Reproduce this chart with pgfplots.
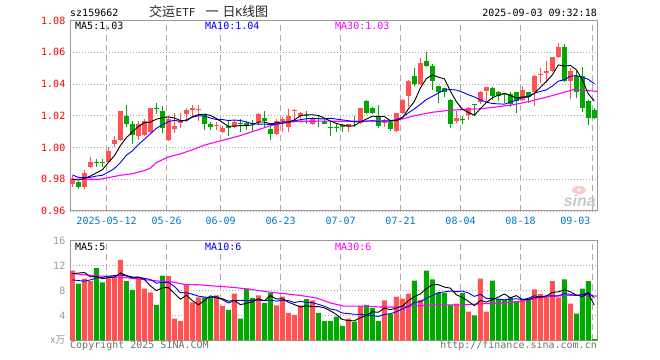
\documentclass[border=0pt]{standalone}
\usepackage{pgfplots}
\pgfplotsset{compat=1.18}
\usepackage{pgfplotstable}
\usepackage{fontspec}
\setmainfont{DejaVu Sans}
\newfontfamily\mono{DejaVu Sans Mono}
\newfontfamily\cjk{Noto Sans CJK SC}
\newfontfamily\logofont{Liberation Sans}
\definecolor{cRed}{HTML}{FF5252}
\definecolor{cGreen}{HTML}{00A800}
\definecolor{tickRed}{HTML}{FF0000}
\definecolor{dateBlue}{HTML}{0078C8}
\definecolor{gridGray}{HTML}{AAAAAA}
\definecolor{frameGray}{HTML}{999999}
\definecolor{volGray}{HTML}{999999}
\definecolor{txtGray}{HTML}{707070}
\definecolor{maBlue}{HTML}{0000FF}
\definecolor{maMag}{HTML}{FF00FF}
\newcommand{\mf}{\mono\fontsize{10bp}{12bp}\selectfont}
\newcommand{\cf}{\cjk\fontsize{13bp}{15bp}\selectfont}

% red (rising) candles: index, open, high, low, close
\pgfplotstableread{
i O H L C
0 0.977 0.982 0.975 0.980
2 0.975 0.986 0.974 0.984
3 0.988 0.994 0.987 0.991
6 0.991 1.000 0.990 0.998
7 1.002 1.007 1.000 1.005
8 1.005 1.023 1.004 1.023
11 1.007 1.017 1.005 1.015
12 1.008 1.018 1.007 1.017
13 1.010 1.025 1.009 1.025
16 1.005 1.020 1.004 1.018
17 1.0115 1.0215 1.009 1.0135
18 1.0155 1.0215 1.0125 1.017
19 1.021 1.025 1.018 1.0235
20 1.0235 1.0265 1.020 1.025
21 1.0238 1.027 1.0165 1.0245
24 1.0135 1.016 1.011 1.0141
25 1.010 1.0135 1.009 1.0125
27 1.0126 1.0175 1.012 1.016
31 1.016 1.022 1.014 1.021
34 1.0085 1.018 1.008 1.017
35 1.0165 1.019 1.0095 1.018
36 1.013 1.0245 1.010 1.020
37 1.023 1.0245 1.016 1.0236
38 1.020 1.0225 1.017 1.0217
40 1.015 1.019 1.014 1.018
46 1.013 1.015 1.0098 1.0146
48 1.0156 1.025 1.015 1.0246
52 1.0156 1.0177 1.0131 1.0162
54 1.0102 1.0219 1.0098 1.0215
55 1.0215 1.0306 1.0208 1.0302
56 1.0327 1.0427 1.0256 1.0417
58 1.0402 1.0563 1.0396 1.0535
64 1.0167 1.0233 1.0152 1.0183
66 1.0202 1.0256 1.0173 1.025
68 1.0285 1.0354 1.0277 1.0348
69 1.0354 1.0381 1.0292 1.0379
75 1.0302 1.0385 1.0292 1.0365
77 1.0348 1.0458 1.026 1.0452
78 1.0458 1.050 1.0406 1.0465
79 1.0469 1.0542 1.0406 1.048
80 1.048 1.0569 1.0473 1.0567
81 1.0567 1.0656 1.0563 1.0635
83 1.0417 1.050 1.0308 1.0485
}\redK

% green (falling) candles
\pgfplotstableread{
i O H L C
1 0.978 0.979 0.974 0.975
4 0.991 0.993 0.988 0.990
5 0.991 0.993 0.988 0.990
9 1.020 1.027 1.013 1.015
10 1.015 1.017 1.002 1.008
14 1.025 1.028 1.021 1.0245
15 1.023 1.026 1.009 1.012
22 1.0205 1.021 1.011 1.015
23 1.0147 1.016 1.011 1.013
26 1.0133 1.0175 1.0074 1.012
28 1.0153 1.018 1.0095 1.0147
29 1.0154 1.017 1.011 1.014
30 1.0155 1.0175 1.010 1.0145
32 1.0185 1.023 1.013 1.0165
33 1.0115 1.015 1.005 1.0085
39 1.0205 1.023 1.015 1.020
41 1.0187 1.020 1.0126 1.018
42 1.017 1.018 1.0147 1.015
43 1.0131 1.016 1.0074 1.0125
44 1.013 1.0156 1.010 1.0125
45 1.014 1.0146 1.0098 1.013
47 1.0167 1.020 1.013 1.016
49 1.0296 1.0302 1.0208 1.0215
50 1.0246 1.0256 1.0208 1.0217
51 1.0198 1.0265 1.012 1.0135
53 1.016 1.0167 1.0104 1.0115
57 1.0452 1.050 1.0385 1.0402
59 1.0548 1.0604 1.051 1.0515
60 1.0515 1.0527 1.0365 1.0417
61 1.0385 1.039 1.0281 1.0348
62 1.0377 1.0377 1.0319 1.0352
63 1.0302 1.0306 1.0125 1.0146
65 1.0181 1.020 1.0146 1.0175
67 1.0275 1.0275 1.0198 1.0265
70 1.0375 1.0379 1.0302 1.0327
71 1.0348 1.0354 1.0292 1.0327
72 1.0336 1.0344 1.0281 1.033
73 1.034 1.0348 1.0256 1.0277
74 1.0348 1.0348 1.0219 1.0292
76 1.0348 1.0348 1.0281 1.0319
82 1.0635 1.0652 1.041 1.0417
84 1.0452 1.048 1.0313 1.0348
85 1.0448 1.051 1.0223 1.025
86 1.0296 1.0302 1.014 1.0188
87 1.0235 1.025 1.0177 1.0188
}\greenK

% price moving averages (MA5, MA10)
\pgfplotstableread{
i m5 m10
0 0.9800 0.9827
1 0.9795 0.9812
2 0.9805 0.9810
3 0.9820 0.9812
4 0.9840 0.9820
5 0.9860 0.9825
6 0.9906 0.9845
7 0.9948 0.9868
8 1.0012 0.9905
9 1.0062 0.9951
10 1.0098 0.9979
11 1.0132 1.0019
12 1.0156 1.0052
13 1.0160 1.0086
14 1.0179 1.0121
15 1.0187 1.0143
16 1.0193 1.0163
17 1.0186 1.0171
18 1.0170 1.0165
19 1.0168 1.0174
20 1.0194 1.0191
21 1.0207 1.0200
22 1.0210 1.0198
23 1.0202 1.0186
24 1.0183 1.0176
25 1.0158 1.0176
26 1.0133 1.0170
27 1.0135 1.0173
28 1.0138 1.0170
29 1.0138 1.0161
30 1.0142 1.0150
31 1.0160 1.0147
32 1.0161 1.0148
33 1.0149 1.0144
34 1.0155 1.0147
35 1.0162 1.0152
36 1.0160 1.0160
37 1.0174 1.0168
38 1.0200 1.0175
39 1.0206 1.0181
40 1.0206 1.0184
41 1.0202 1.0181
42 1.0185 1.0180
43 1.0167 1.0184
44 1.0152 1.0179
45 1.0142 1.0174
46 1.0135 1.0169
47 1.0137 1.0161
48 1.0161 1.0164
49 1.0179 1.0166
50 1.0197 1.0169
51 1.0195 1.0165
52 1.0195 1.0166
53 1.0169 1.0165
54 1.0169 1.0174
55 1.0186 1.0191
56 1.0242 1.0218
57 1.0290 1.0243
58 1.0374 1.0272
59 1.0434 1.0302
60 1.0457 1.0322
61 1.0443 1.0343
62 1.0433 1.0362
63 1.0356 1.0365
64 1.0289 1.0362
65 1.0241 1.0349
66 1.0221 1.0332
67 1.0204 1.0319
68 1.0244 1.0300
69 1.0283 1.0286
70 1.0314 1.0277
71 1.0329 1.0275
72 1.0342 1.0273
73 1.0328 1.0286
74 1.0311 1.0297
75 1.0318 1.0316
76 1.0317 1.0323
77 1.0341 1.0342
78 1.0379 1.0353
79 1.0416 1.0363
80 1.0457 1.0387
81 1.0520 1.0418
82 1.0513 1.0427
83 1.0517 1.0448
84 1.0490 1.0453
85 1.0427 1.0442
86 1.0338 1.0429
87 1.0292 1.0402
}\pma

% price MA30
\pgfplotstableread{
x m30
-0.4 0.9800
4.5 0.9800
6 0.9810
8 0.9825
10 0.9835
12 0.9855
13 0.9870
14 0.9905
16 0.9940
18 0.9960
20 0.9985
22 1.0015
24 1.0035
26 1.0055
28 1.0075
30 1.0100
32 1.0125
34 1.0148
36 1.0160
38 1.0165
42 1.0166
46 1.0165
50 1.0166
53 1.0170
55 1.0180
57 1.0200
60 1.0222
63 1.0235
65.3 1.0240
68 1.0244
70.8 1.0256
73.6 1.0270
76.4 1.0292
79.2 1.0319
82 1.0348
83.6 1.0365
85.2 1.0360
87.45 1.0354
}\pmathirty

% volume, red days
\pgfplotstableread{
i V
0 11.2
2 9.9
3 9.5
6 10.1
7 10.2
8 12.9
11 10.1
12 8.3
13 7.7
16 10.3
17 3.5
18 3.1
19 8.9
20 6.1
21 6.9
24 7.2
25 5.5
27 7.5
31 7.2
34 5.6
35 7.0
36 4.4
37 4.1
38 5.6
40 6.4
46 3.5
48 5.5
52 6.4
54 7.0
55 6.7
56 7.5
58 6.5
64 5.9
66 4.6
68 9.9
69 4.6
75 6.5
77 8.2
78 7.4
79 6.9
80 9.5
81 6.9
83 5.9
}\redV

% volume, green days
\pgfplotstableread{
i V
1 9.1
4 11.6
5 9.3
9 9.5
10 8.1
14 5.7
15 10.4
22 6.9
23 6.9
26 4.9
28 3.5
29 8.3
30 6.8
32 6.0
33 7.6
39 6.6
41 4.4
42 3.1
43 3.1
44 3.8
45 2.3
47 3.0
49 5.7
50 5.2
51 3.1
53 4.2
57 9.6
59 11.2
60 9.8
61 7.6
62 7.6
63 5.7
65 7.6
67 4.0
70 9.6
71 6.6
72 6.5
73 6.9
74 6.3
76 6.5
82 9.8
84 4.3
85 8.3
86 9.5
87 0.2
}\greenV

% volume MA5, MA10
\pgfplotstableread{
i m5 m10
0 10.7 9.7
1 10.8 9.6
2 10.9 9.5
3 10.2 9.7
4 10.26 10.0
5 9.88 10.1
6 10.08 10.3
7 10.14 10.4
8 10.82 10.5
9 10.40 10.33
10 10.16 10.02
11 10.16 10.12
12 9.78 9.96
13 8.74 9.78
14 7.98 9.19
15 8.44 9.30
16 8.48 9.32
17 7.52 8.65
18 6.60 7.67
19 7.24 7.61
20 6.38 7.41
21 5.70 7.09
22 6.38 6.95
23 7.14 6.87
24 6.80 7.02
25 6.68 6.53
26 6.28 5.99
27 6.40 6.39
28 5.72 6.43
29 5.94 6.37
30 6.20 6.44
31 6.66 6.47
32 6.36 6.38
33 7.18 6.45
34 6.64 6.29
35 6.68 6.44
36 6.12 6.39
37 5.74 6.05
38 5.34 6.26
39 5.54 6.09
40 5.42 6.05
41 5.42 5.77
42 5.22 5.48
43 4.72 5.03
44 4.16 4.85
45 3.34 4.38
46 3.16 4.29
47 3.14 4.18
48 3.62 4.17
49 4.00 4.08
50 4.58 3.96
51 4.50 3.83
52 5.18 4.16
53 4.92 4.27
54 5.18 4.59
55 5.48 5.03
56 6.36 5.43
57 7.00 6.09
58 7.46 6.19
59 8.30 6.74
60 8.92 7.20
61 8.94 7.65
62 8.54 7.77
63 8.38 7.92
64 7.32 7.81
65 6.88 7.90
66 6.28 7.61
67 5.56 7.05
68 6.40 7.39
69 6.14 6.73
70 6.54 6.71
71 6.94 6.61
72 7.44 6.50
73 6.84 6.62
74 7.18 6.66
75 6.56 6.55
76 6.54 6.74
77 6.88 7.16
78 6.98 6.91
79 7.10 7.14
80 7.70 7.13
81 7.78 7.16
82 8.10 7.49
83 7.80 7.39
84 7.28 7.19
85 7.04 7.37
86 7.56 7.67
87 5.64 6.87
}\vma

% volume MA30
\pgfplotstableread{
x m30
-0.4 10.75
3.5 10.4
6.8 10.2
9 10.05
11.3 9.8
14.6 9.5
16.8 9.35
18.5 9.0
21.3 8.9
24 8.7
26.8 8.5
29.6 8.2
32.4 7.8
35.2 7.5
38 7.2
40.7 6.8
43 6.0
45.2 5.5
48.5 5.5
51.3 5.35
54 5.35
56.8 5.5
60.7 5.7
65.2 5.7
67.9 5.85
71.8 6.0
75.2 6.3
77.5 6.8
82 7.2
85.3 7.25
87.45 7.1
}\vmathirty

\pgfplotsset{
  kpanel/.style={
    scale only axis, width=527bp,
    xmin=-0.4, xmax=87.45,
    xtick={5.7,15.7,24.7,34.7,44.7,54.7,64.7,74.7,86.7},
    xmajorgrids, ymajorgrids,
    x grid style={draw=gridGray, line width=1.2bp, dash pattern=on 6bp off 4bp},
    y grid style={draw=gridGray, line width=0.8bp, dash pattern=on 1bp off 2bp},
    axis line style={draw=frameGray, line width=1bp},
    major tick length=0pt,
    yticklabel style={font=\mf, xshift=-1.2bp},
  },
  wick/.style={draw=none, mark=none, forget plot,
    error bars/.cd, y dir=minus, y explicit, error mark=none,
    error bar style={draw=#1, line width=1bp}},
  body/.style={draw=none, mark=none, forget plot,
    error bars/.cd, y dir=minus, y explicit, error mark=none,
    error bar style={draw=#1, line width=4.6bp}},
}

\begin{document}
\begin{tikzpicture}
\path[use as bounding box] (0bp,0bp) rectangle (660bp,360bp);

% ---------- price panel ----------
\begin{axis}[kpanel,
  at={(70bp,149bp)}, anchor=south west, height=190.5bp,
  ymin=0.96, ymax=1.08,
  ytick={0.96,0.98,1.00,1.02,1.04,1.06,1.08},
  yticklabels={0.96,0.98,1.00,1.02,1.04,1.06,1.08},
  xticklabels={2025-05-12,05-26,06-09,06-23,07-07,07-21,08-04,08-18,{\makebox[0pt][r]{09-03\hspace{2bp}}}},
  xticklabel style={font=\mf, text=dateBlue, yshift=-2.5bp},
  yticklabel style={text=tickRed},
]
\addplot[wick=cRed] table[x=i, y=H, y error minus expr=\thisrow{H}-\thisrow{L}] {\redK};
\addplot[body=cRed] table[x=i, y=C, y error minus expr=\thisrow{C}-\thisrow{O}] {\redK};
\addplot[wick=cGreen] table[x=i, y=H, y error minus expr=\thisrow{H}-\thisrow{L}] {\greenK};
\addplot[body=cGreen] table[x=i, y=O, y error minus expr=\thisrow{O}-\thisrow{C}] {\greenK};
\addplot[maMag, line width=1.1bp, mark=none] table[x=x, y=m30] {\pmathirty};
\addplot[maBlue, line width=0.9bp, mark=none] table[x=i, y=m10] {\pma};
\addplot[black, line width=0.9bp, mark=none] table[x=i, y=m5] {\pma};
\end{axis}

% ---------- volume panel ----------
\begin{axis}[kpanel,
  at={(70bp,19.7bp)}, anchor=south west, height=99.6bp,
  ymin=0, ymax=16,
  ytick={0,4,8,12,16},
  yticklabels={{\cjk\fontsize{10bp}{12bp}\selectfont x万},4,8,12,16},
  xticklabels={},
  yticklabel style={text=volGray},
]
\addplot[ybar, bar width=5bp, bar shift=0pt, fill=cRed, draw=none, forget plot] table[x=i, y=V] {\redV};
\addplot[ybar, bar width=5bp, bar shift=0pt, fill=cGreen, draw=none, forget plot] table[x=i, y=V] {\greenV};
\addplot[maMag, line width=1.1bp, mark=none] table[x=x, y=m30] {\vmathirty};
\addplot[maBlue, line width=0.9bp, mark=none] table[x=i, y=m10] {\vma};
\addplot[black, line width=0.9bp, mark=none] table[x=i, y=m5] {\vma};
\end{axis}

% ---------- texts ----------
\node[anchor=base west, inner sep=0pt, font=\mf] at (70bp,343bp) {sz159662};
\node[anchor=base west, inner sep=0pt, text=black!85] at (149bp,343.5bp)
  {{\cf 交运}\hspace{0.5bp}{\mono\fontsize{11bp}{13bp}\selectfont ETF}\hspace{10bp}{\cf 一}\hspace{4bp}{\cf 日}{\mono\fontsize{11bp}{13bp}\selectfont K}{\cf 线图}};
\node[anchor=base east, inner sep=0pt, font=\mf] at (597bp,343bp) {2025-09-03 09:32:18};

\node[anchor=base west, inner sep=0pt, font=\mf] at (75bp,330bp) {MA5:1.03};
\node[anchor=base west, inner sep=0pt, font=\mf, text=maBlue] at (205bp,330bp) {MA10:1.04};
\node[anchor=base west, inner sep=0pt, font=\mf, text=maMag] at (335bp,330bp) {MA30:1.03};

\node[anchor=base west, inner sep=0pt, font=\mf] at (75bp,109.3bp) {MA5:5};
\node[anchor=base west, inner sep=0pt, font=\mf, text=maBlue] at (205bp,109.3bp) {MA10:6};
\node[anchor=base west, inner sep=0pt, font=\mf, text=maMag] at (335bp,109.3bp) {MA30:6};

\node[anchor=base west, inner sep=0pt, font=\mf, text=txtGray] at (70bp,11.5bp) {Copyright 2025 SINA.COM};
\node[anchor=base east, inner sep=0pt, font=\mf, text=txtGray] at (597bp,11.5bp) {http://finance.sina.com.cn};

% sina watermark
\fill[red!22] (579bp,170bp) ellipse (7bp and 4bp);
\fill[white] (579bp,170bp) circle (1.8bp);
\node[anchor=base east, inner sep=0pt, text=black!22, font=\logofont\bfseries\itshape\fontsize{16bp}{16bp}\selectfont] at (596bp,153bp) {sina};
\end{tikzpicture}
\end{document}
